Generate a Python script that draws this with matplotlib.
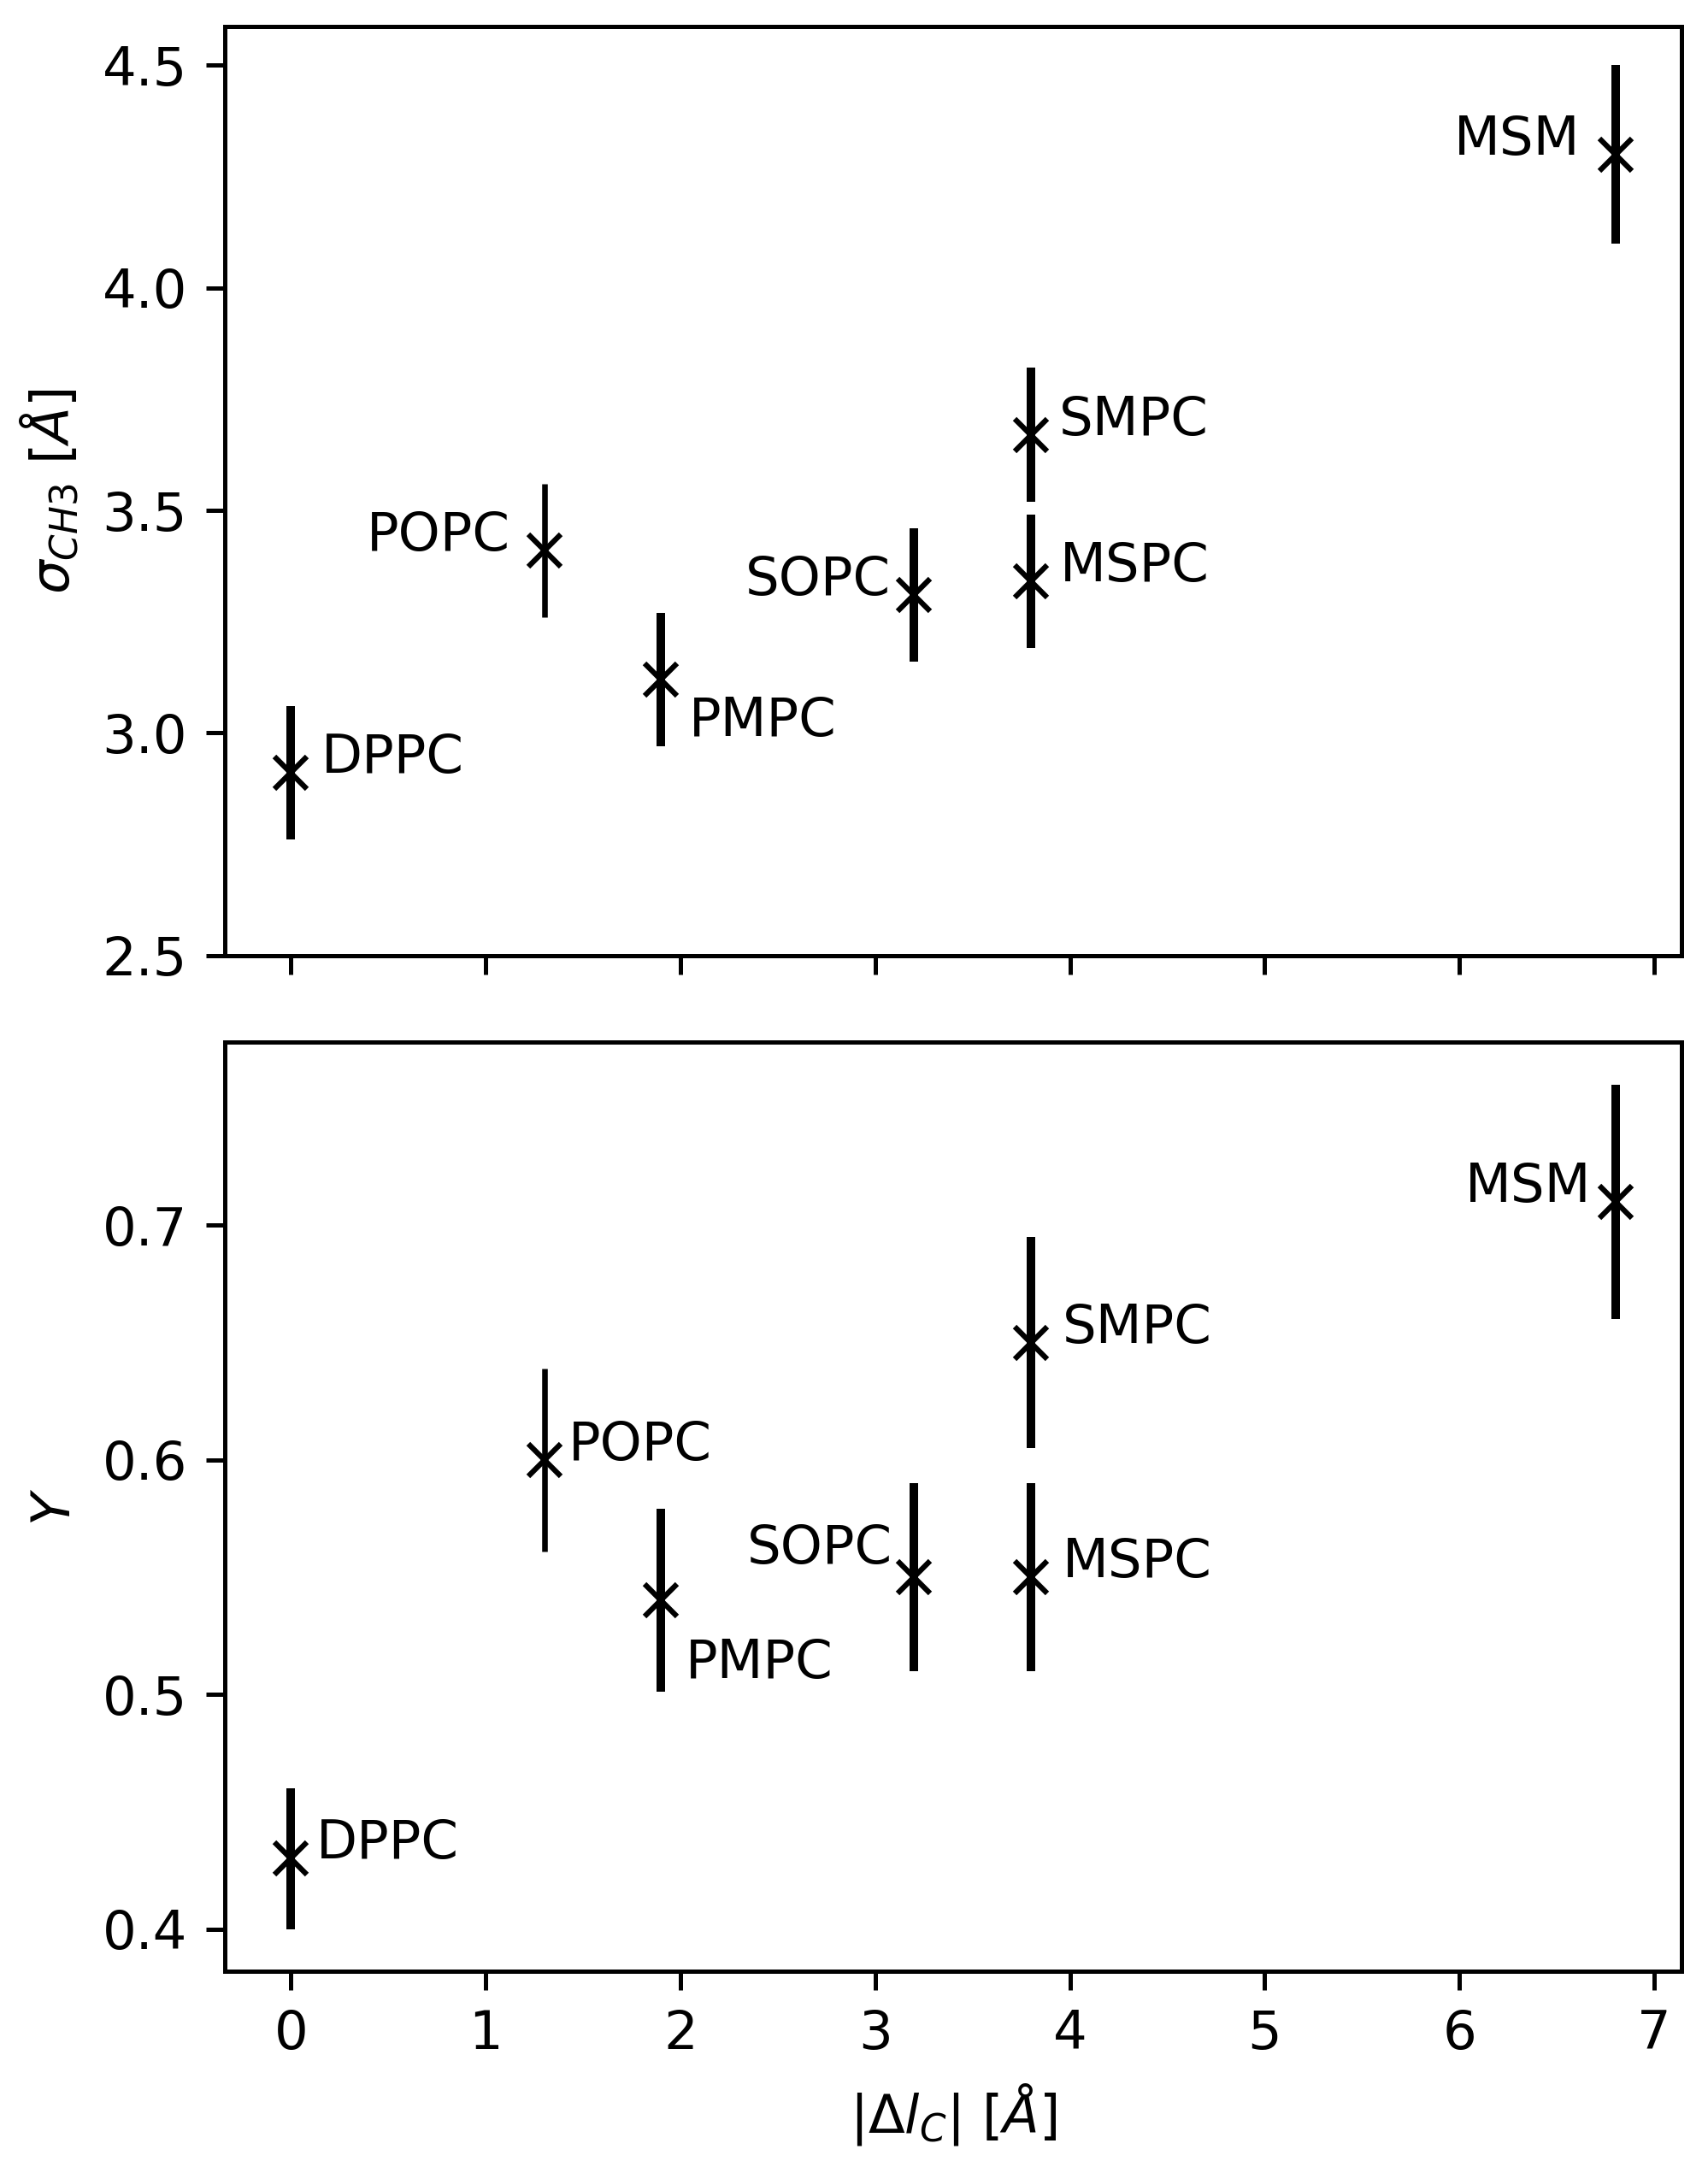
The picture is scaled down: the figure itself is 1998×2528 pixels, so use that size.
import numpy as np
import matplotlib
matplotlib.use("Agg")
import matplotlib.pyplot as plt
from matplotlib.ticker import MultipleLocator

# lipid data
lipids = ["DPPC", "POPC", "PMPC", "SOPC", "SMPC", "MSPC", "MSM"]
delta_lc = [0.0, 1.3, 1.9, 3.2, 3.8, 3.8, 6.8]

sigma_ch3 = [2.91, 3.41, 3.12, 3.31, 3.67, 3.34, 4.30]
sigma_err = [0.15, 0.15, 0.15, 0.15, 0.15, 0.15, 0.20]

y_val = [0.43, 0.60, 0.54, 0.55, 0.65, 0.55, 0.71]
y_err = [0.03, 0.039, 0.039, 0.04, 0.045, 0.04, 0.05]

# label placement (dx, dy in data units, horizontal alignment)
top_labels = [(0.155, 0.0, "left"), (-0.175, 0.0, "right"), (0.145, -0.127, "left"),
              (-0.12, 0.0, "right"), (0.145, 0.0, "left"), (0.15, 0.0, "left"),
              (-0.18, 0.0, "right")]
bot_labels = [(0.13, 0.0, "left"), (0.125, 0.0, "left"), (0.125, -0.033, "left"),
              (-0.11, 0.006, "right"), (0.16, 0.0, "left"), (0.16, 0.0, "left"),
              (-0.125, 0.0, "right")]

# thinner error bar for POPC
elw = [1.6, 1.05, 1.6, 1.6, 1.6, 1.6, 1.6]


def plotPanel(ax, xs, ys, errs, labels):
    for i in range(len(xs)):
        ax.errorbar(xs[i], ys[i], yerr=errs[i], fmt="x", color="k",
                    ecolor="k", elinewidth=elw[i], capsize=0,
                    markersize=6, markeredgewidth=1.0)
        dx, dy, ha = labels[i]
        ax.text(xs[i] + dx, ys[i] + dy, lipids[i], ha=ha, va="baseline",
                fontsize=10)


fig, (ax1, ax2) = plt.subplots(2, 1, sharex=True,
                               figsize=(1998 / 450, 2528 / 450))
fig.subplots_adjust(left=0.1316, right=0.9845, top=0.9877, bottom=0.0878,
                    hspace=0.0935)

plotPanel(ax1, delta_lc, sigma_ch3, sigma_err, top_labels)
ax1.set_ylim(bottom=2.5)
ax1.set_ylabel(r"$\sigma_{CH3}$ [$\AA$]")

plotPanel(ax2, delta_lc, y_val, y_err, bot_labels)
ax2.yaxis.set_major_locator(MultipleLocator(0.1))
ax2.set_ylabel(r"$Y$")
ax2.set_xlabel(r"$|\Delta l_C|$ [$\AA$]")

fig.savefig("out.png", dpi=450)
